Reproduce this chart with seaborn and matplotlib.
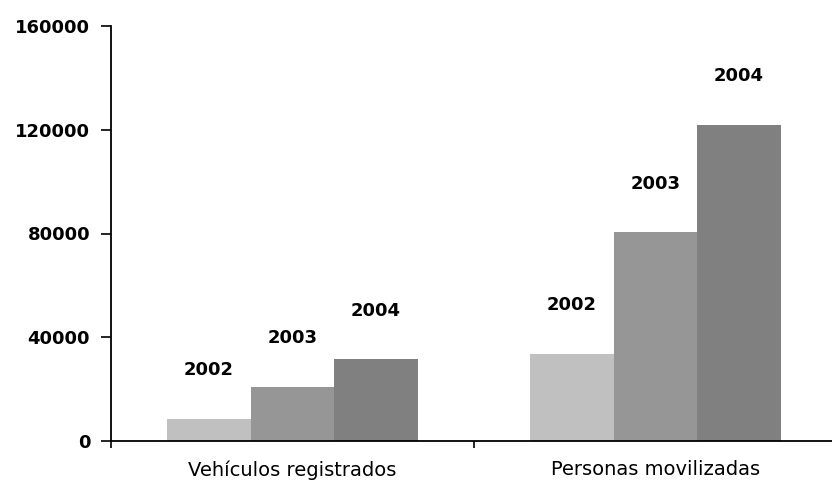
import pandas as pd
import matplotlib
matplotlib.use("Agg")
import matplotlib.pyplot as plt
import seaborn as sns

# valores
categorias = ["Vehículos registrados", "Personas movilizadas"]
anios = ["2002", "2003", "2004"]
vehiculos = [8500, 21000, 31500]
personas = [33500, 80500, 122000]
colores = ["#c0c0c0", "#969696", "#808080"]
yticks = [0, 40000, 80000, 120000, 160000]

filas = []
for cat, vals in zip(categorias, [vehiculos, personas]):
    for a, v in zip(anios, vals):
        filas.append({"Categoria": cat, "Anio": a, "Valor": v})
df = pd.DataFrame(filas)

sns.set_style("white")
plt.rcParams["font.family"] = ["DejaVu Sans"]

fig = plt.figure(figsize=(8.32, 4.84), dpi=100)
ax = fig.add_axes([111 / 832, 1 - 441 / 484, 726 / 832, 415 / 484])

sns.barplot(data=df, x="Categoria", y="Valor", hue="Anio", order=categorias,
            hue_order=anios, palette=colores, width=0.69, saturation=1,
            linewidth=0, legend=False, ax=ax)

# etiquetas de año por encima de cada barra
for cont, a in zip(ax.containers, anios):
    for barra in cont:
        x = barra.get_x() + barra.get_width() / 2
        ax.annotate(a, (x, barra.get_height()), xytext=(0, 35),
                    textcoords="offset points", ha="center", va="center",
                    fontsize=13, fontweight="bold", color="black")

ax.set_xlim(-0.5, 1.5)
ax.set_ylim(0, 160000)
ax.set_yticks(yticks)
ax.set_yticklabels([str(t) for t in yticks], fontsize=13, fontweight="bold")
ax.set_xticks([0, 1])
ax.set_xticklabels(categorias, fontsize=14)
ax.set_xticks([-0.5, 0.5, 1.5], minor=True)
ax.tick_params(axis="x", which="major", length=0, pad=14, labelcolor="black")
ax.tick_params(axis="x", which="minor", length=5, width=1.2, direction="out",
               bottom=True, color="black")
ax.tick_params(axis="y", length=7, width=1.2, direction="out", left=True, pad=8,
               color="black", labelcolor="black")
ax.set_xlabel("")
ax.set_ylabel("")

for s in ["top", "right"]:
    ax.spines[s].set_visible(False)
for s in ["left", "bottom"]:
    ax.spines[s].set_color("black")
    ax.spines[s].set_linewidth(1.3)

fig.savefig("out.png", dpi=100)
